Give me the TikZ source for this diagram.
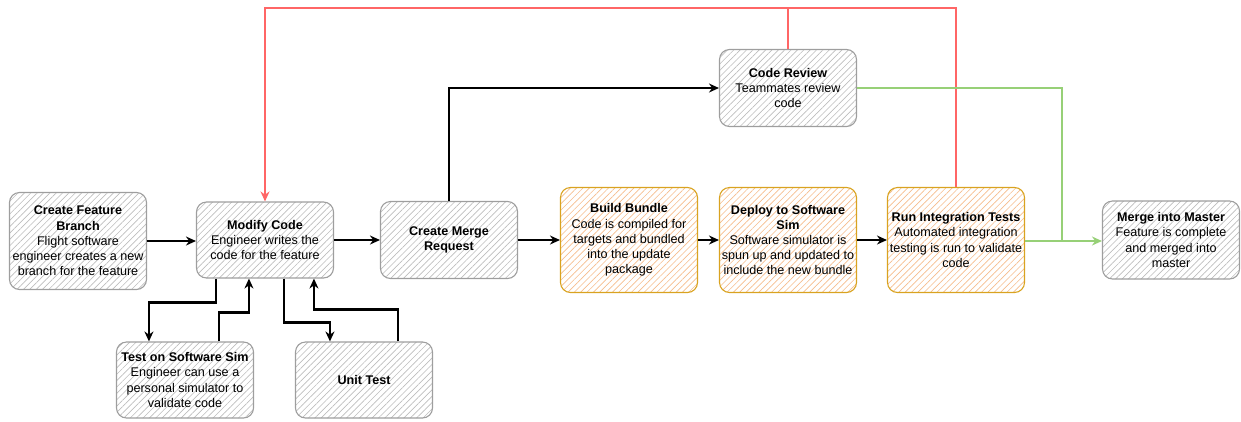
\documentclass[tikz,border=0pt]{standalone}
\usepackage{fontspec}
\setmainfont{Liberation Sans}
\usetikzlibrary{patterns.meta,arrows.meta,calc}
\definecolor{grayhatch}{HTML}{BDBDBD}
\definecolor{graystroke}{HTML}{9E9E9E}
\definecolor{orhatch}{HTML}{F5BC8C}
\definecolor{orstroke}{HTML}{D9A320}
\definecolor{redl}{HTML}{FF6666}
\definecolor{greenl}{HTML}{97D077}
\tikzset{
  box/.style={rounded corners=10pt, line width=1.1pt, align=center, inner sep=2pt,
    minimum width=137pt, font=\fontsize{12.6}{15.2}\selectfont},
  graybox/.style={box, draw=graystroke, pattern={Lines[angle=45,distance=4.5pt,line width=0.65pt]}, pattern color=grayhatch},
  orbox/.style={box, draw=orstroke, pattern={Lines[angle=45,distance=4.5pt,line width=0.65pt]}, pattern color=orhatch},
  blk/.style={line width=2.5pt, -{Stealth[length=10pt,width=9pt]}},
  redc/.style={draw=redl, line width=2.4pt},
  greenc/.style={draw=greenl, line width=2.6pt},
}
\begin{document}
\begin{tikzpicture}[x=1pt,y=-1pt]
\useasboundingbox (0,0) rectangle (1241,421);
\node[graybox, minimum height=97pt] (cfb) at (78,241) {\textbf{Create Feature}\\\textbf{Branch}\\Flight software\\engineer creates a new\\branch for the feature};
\node[graybox, minimum height=76pt] (mc) at (265,240) {\textbf{Modify Code}\\Engineer writes the\\code for the feature};
\node[graybox, minimum height=77pt] (cmr) at (449,240) {\textbf{Create Merge}\\\textbf{Request}};
\node[orbox, minimum height=105pt] (bb) at (629,240) {\textbf{Build Bundle}\\Code is compiled for\\targets and bundled\\into the update\\package};
\node[orbox, minimum height=105pt] (dss) at (788,240) {\textbf{Deploy to Software}\\\textbf{Sim}\\Software simulator is\\spun up and updated to\\include the new bundle};
\node[orbox, minimum height=105pt] (rit) at (956,240) {\textbf{Run Integration Tests}\\Automated integration\\testing is run to validate\\code};
\node[graybox, minimum height=78pt] (mm) at (1171,240) {\textbf{Merge into Master}\\Feature is complete\\and merged into\\master};
\node[graybox, minimum height=77pt] (cr) at (788,88) {\textbf{Code Review}\\Teammates review\\code};
\node[graybox, minimum height=76pt] (tss) at (185,380) {\textbf{Test on Software Sim}\\Engineer can use a\\personal simulator to\\validate code};
\node[graybox, minimum height=76pt] (ut) at (364,380) {\textbf{Unit Test}};

\coordinate (rtop) at (265,8);
\coordinate (gj) at (1062,241);

% main flow
\draw[blk] (cfb.east) -- (cfb.east -| mc.west);
\draw[blk] (mc.east) -- (cmr.west);
\draw[blk] (cmr.east) -- (bb.west);
\draw[blk] (bb.east) -- (dss.west);
\draw[blk] (dss.east) -- (rit.west);
\draw[blk, line width=2pt] (cmr.north) |- (cr.west);

% red feedback
\draw[redc, -{Stealth[length=10pt,width=9pt]}] (rit.north) |- (rtop) -- (mc.north);
\draw[redc] (cr.north) -- (cr.north |- rtop);

% green
\draw[greenc, -{Stealth[length=10pt,width=9pt]}] (rit.east |- gj) -- (mm.west |- gj);
\draw[greenc] (cr.east) -| (gj);

% modify code loops
\draw[blk] ($(mc.south west)+(20,0)$) -- ++(0,24) -| ($(tss.north west)+(33,0)$);
\draw[blk] ($(tss.north west)+(103,0)$) -- ++(0,-29) -| ($(mc.south west)+(53,0)$);
\draw[blk] ($(mc.south west)+(88,0)$) -- ++(0,44) -| ($(ut.north west)+(35,0)$);
\draw[blk] ($(ut.north west)+(103,0)$) -- ++(0,-32) -| ($(mc.south west)+(118,0)$);
\end{tikzpicture}
\end{document}
